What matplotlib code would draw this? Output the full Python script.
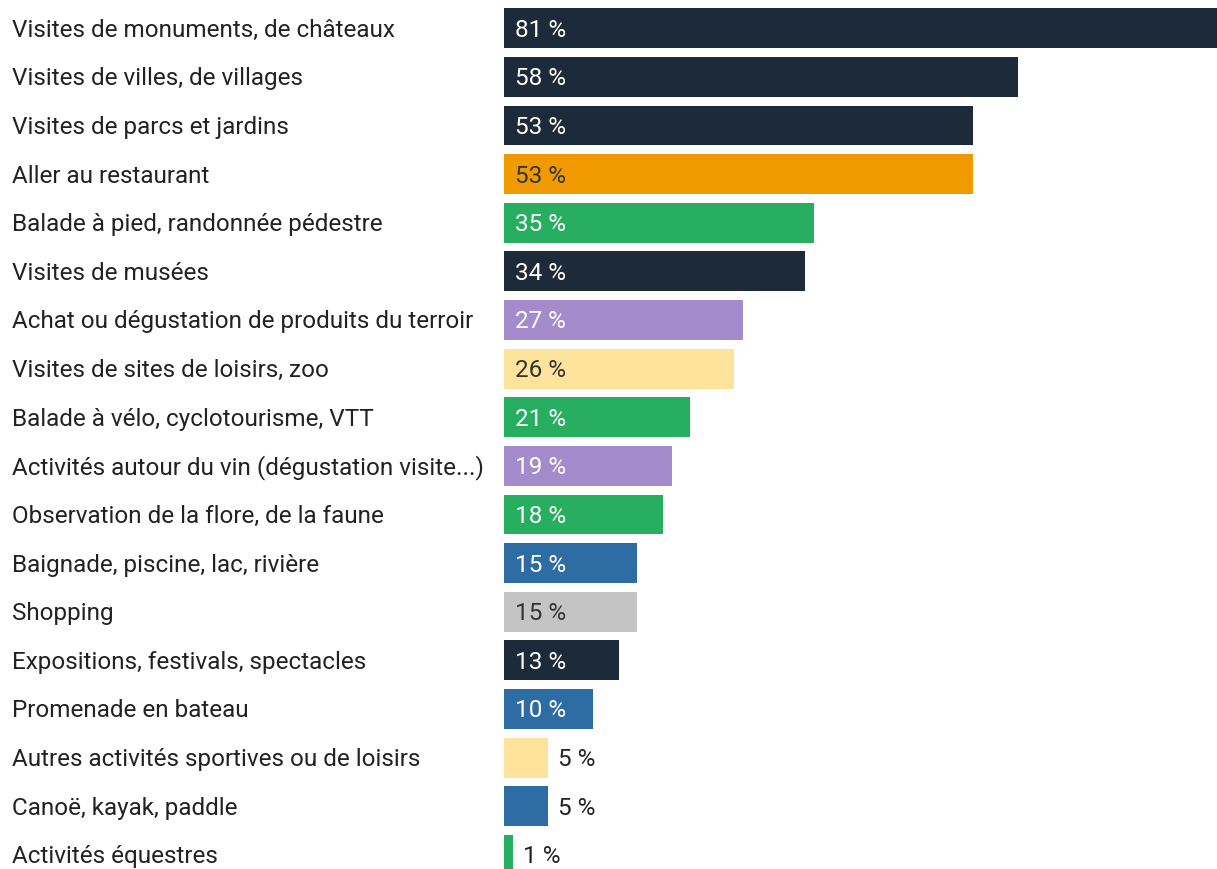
import matplotlib.pyplot as plt
from matplotlib.transforms import blended_transform_factory

plt.rcParams['font.family'] = ['Roboto', 'DejaVu Sans']

activities = [
    "Visites de monuments, de châteaux",
    "Visites de villes, de villages",
    "Visites de parcs et jardins",
    "Aller au restaurant",
    "Balade à pied, randonnée pédestre",
    "Visites de musées",
    "Achat ou dégustation de produits du terroir",
    "Visites de sites de loisirs, zoo",
    "Balade à vélo, cyclotourisme, VTT",
    "Activités autour du vin (dégustation visite...)",
    "Observation de la flore, de la faune",
    "Baignade, piscine, lac, rivière",
    "Shopping",
    "Expositions, festivals, spectacles",
    "Promenade en bateau",
    "Autres activités sportives ou de loisirs",
    "Canoë, kayak, paddle",
    "Activités équestres",
]
shares = [81, 58, 53, 53, 35, 34, 27, 26, 21, 19, 18, 15, 15, 13, 10, 5, 5, 1]
groups = ["culture", "culture", "culture", "food", "nature", "culture", "terroir",
          "leisure", "nature", "terroir", "nature", "water", "shopping", "culture",
          "water", "leisure", "water", "nature"]

palette = {
    "culture": "#1c2a3a",
    "food": "#f09a00",
    "nature": "#27ae60",
    "terroir": "#a38bcc",
    "leisure": "#fee39c",
    "water": "#2e6da4",
    "shopping": "#c4c4c4",
}
light = {"food", "leisure", "shopping"}

fig = plt.figure(figsize=(12.17, 8.70), dpi=100)
ax = fig.add_axes([504 / 1217, 0, 1 - 504 / 1217, 1])

ypos = list(range(len(activities)))
ax.barh(ypos, shares, height=0.82, color=[palette[g] for g in groups])
# the longest bar runs off the right edge
ax.set_xlim(0, 80.5)
ax.set_ylim(17.29, -0.6)
ax.axis('off')

fs = 17.5
label_tf = blended_transform_factory(fig.transFigure, ax.transData)
for y, name, val, g in zip(ypos, activities, shares, groups):
    ax.text(12 / 1217, y + 0.02, name, transform=label_tf, ha='left', va='center',
            fontsize=fs, color='#222222')
    txt = f"{val} %"
    if val >= 10:
        color = '#333333' if g in light else 'white'
        ax.text(1.2, y + 0.02, txt, ha='left', va='center', fontsize=fs, color=color)
    else:
        ax.text(val + 1.1, y + 0.02, txt, ha='left', va='center', fontsize=fs,
                color='#222222')

fig.savefig('out.png', dpi=100)
